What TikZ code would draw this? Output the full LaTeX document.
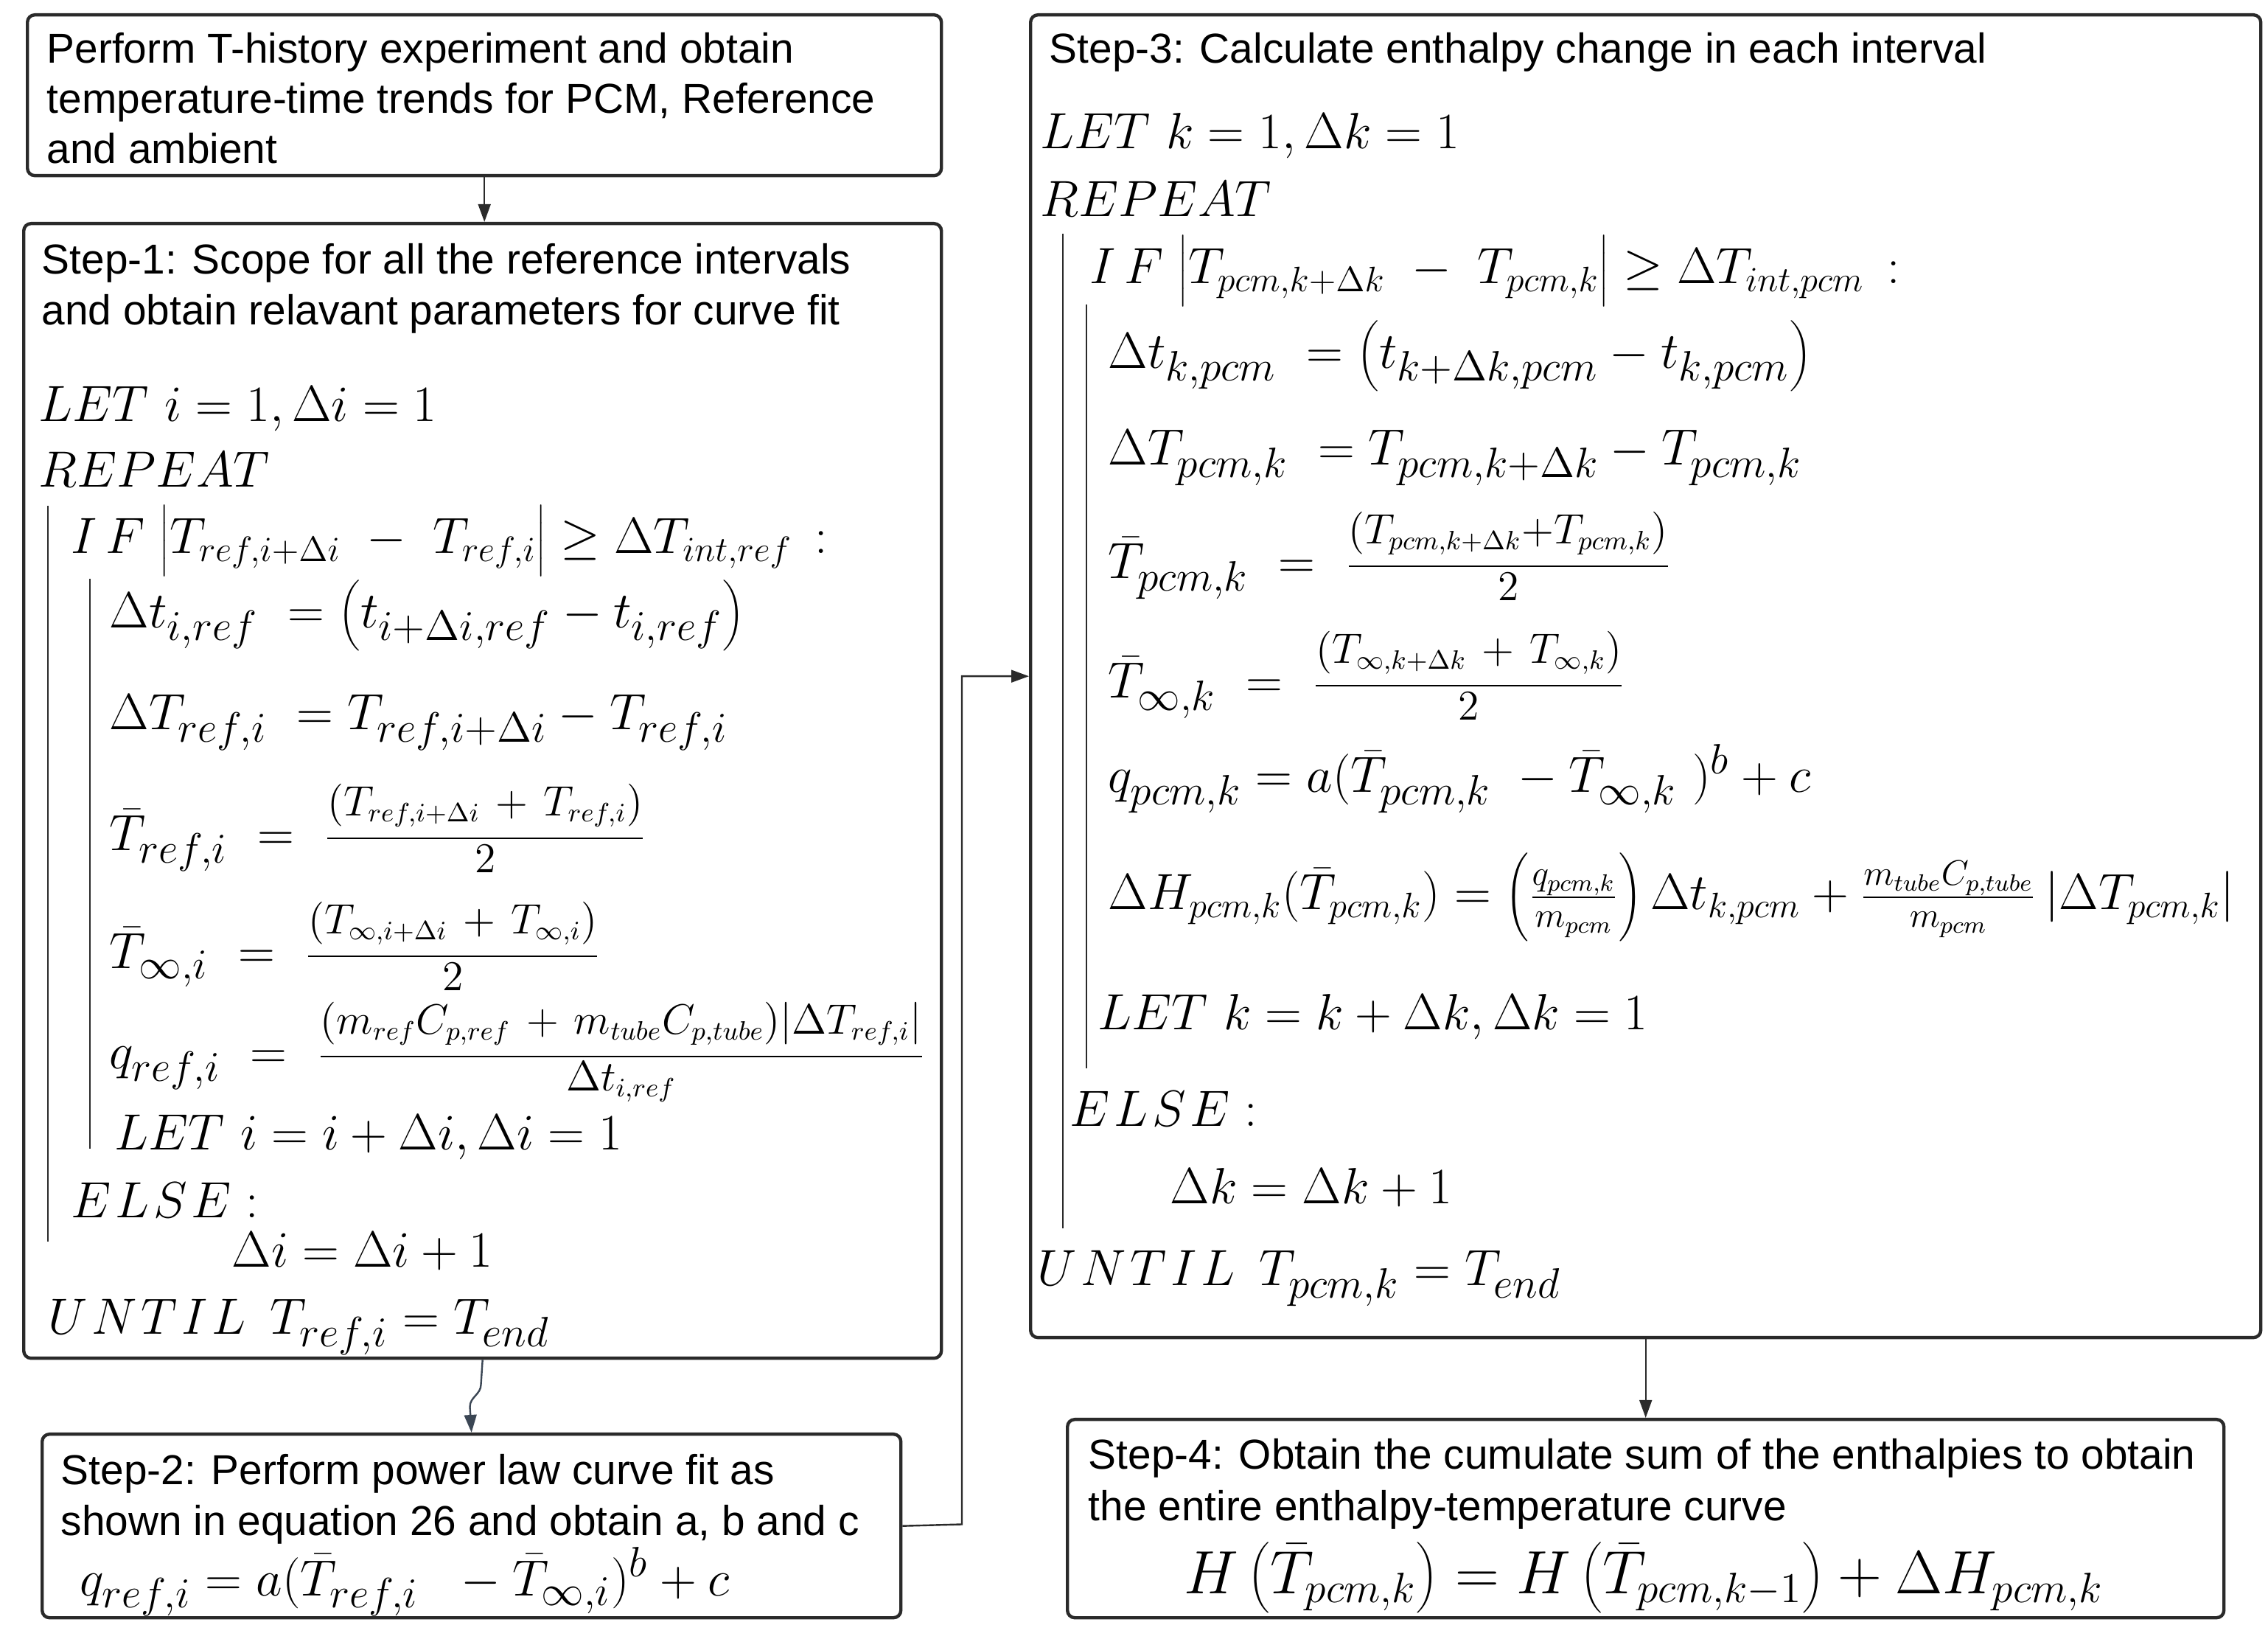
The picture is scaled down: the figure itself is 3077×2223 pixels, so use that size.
\documentclass[tikz,border=0pt]{standalone}
\usepackage[no-math]{fontspec}
\setmainfont{Liberation Sans}
\usetikzlibrary{arrows.meta,calc}
\definecolor{edge}{HTML}{2A2A2A}
\definecolor{slate}{HTML}{3B4654}
\newcommand\titlefnt{\fontsize{14.2}{17}\selectfont}
\newcommand\eqfnt{\fontsize{19}{23}\selectfont}
\newcommand\eqsmall{\fontsize{18}{22}\selectfont}
\newcommand\eqtiny{\fontsize{17}{21}\selectfont}
\newcommand\eqbig{\fontsize{19.5}{23}\selectfont}
% fraction with lifted numerator and lowered denominator
\newcommand\ffrac[2]{\frac{#1\vrule depth 7pt width 0pt height 0pt}{\vrule height 11pt width 0pt #2}}
\newcommand\ls{\mkern1.5mu}
\tikzset{
  box/.style={draw=edge, line width=1.1pt, rounded corners=2.5pt, fill=white, inner sep=0pt},
  txt/.style={anchor=base west, inner sep=0pt, font=\titlefnt},
  eq/.style={anchor=base west, inner sep=0pt, font=\eqfnt},
  arr/.style={draw=edge, line width=0.6pt, -{Triangle[length=6pt,width=4.2pt]}},
  bar/.style={draw=edge, line width=0.6pt}
}
\begin{document}
\begin{tikzpicture}[x=0.25pt,y=-0.25pt]
\useasboundingbox (0,0) rectangle (3077,2223);
% boxes
\node[box, anchor=north west, minimum width=310pt, minimum height=54.5pt] (b0) at (35,18) {};
\node[box, anchor=north west, minimum width=311.25pt, minimum height=384.75pt] (b1) at (30,301) {};
\node[box, anchor=north west, minimum width=291.25pt, minimum height=62.25pt] (b2) at (55,1943) {};
\node[box, anchor=north west, minimum width=417.25pt, minimum height=448.5pt] (b3) at (1396,18) {};
\node[box, anchor=north west, minimum width=392.25pt, minimum height=67.25pt] (b4) at (1446,1923) {};

% box 0
\node[txt] (t0a) at (63,86) {Perform T-history experiment and obtain};
\node[txt] (t0b) at (63,154) {temperature-time trends for PCM, Reference};
\node[txt] (t0c) at (63,222) {and ambient};

% box 1
\node[txt] (t1a) at (56,372) {Step-1: Scope for all the reference intervals};
\node[txt] (t1b) at (56,441) {and obtain relavant parameters for curve fit};
\node[eq] (e1a) at (52,572) {$LET\ i=1,\Delta i=1$};
\node[eq] (e1b) at (52,661) {$REPEAT$};
\node[eq, font=\eqsmall] (e1c) at (96,751) {$I\,F\ \Biggl|T_{ref,i+\Delta i}\ -\ T_{ref,i}\Biggr|\geq\Delta T_{int,ref}\,:$};
\node[eq] (e1d) at (148,852) {$\Delta t_{i,ref}\ =\left(t_{i+\Delta i,ref}-t_{i,ref}\right)$};
\node[eq] (e1e) at (148,990) {$\Delta T_{ref,i}\ =T_{ref,i+\Delta i}-T_{ref,i}$};
\node[eq] (e1f) at (148,1154) {$\bar{T}_{ref,i}\ =\ \ffrac{\left(T_{ref,i+\Delta i}\ +\ T_{ref,i}\right)}{2}$};
\node[eq] (e1g) at (148,1314) {$\bar{T}_{\infty,i}\ =\ \ffrac{\left(T_{\infty,i+\Delta i}\ +\ T_{\infty,i}\right)}{2}$};
\node[eq] (e1h) at (148,1450) {$q_{ref,i}\ =\ \ffrac{\left(m_{ref}C_{p,ref}\ +\ m_{tube}C_{p,tube}\right)\left|\Delta T_{ref,i}\right|}{\Delta t_{i,ref}}$};
\node[eq] (e1i) at (155,1560) {$LET\ i=i+\Delta i,\Delta i=1$};
\node[eq] (e1j) at (96,1652) {$E\ls L\ls S\ls E:$};
\node[eq] (e1k) at (314,1719) {$\Delta i=\Delta i+1$};
\node[eq] (e1l) at (65,1810) {$U\ls N\ls T\ls I\ls L\ \,T_{ref,i}=T_{end}$};
\coordinate (o1t) at (65,686);  \coordinate (o1b) at (65,1684);
\coordinate (i1t) at (122,785); \coordinate (i1b) at (122,1558);
\draw[bar] (o1t) -- (o1b);
\draw[bar] (i1t) -- (i1b);

% box 2
\node[txt] (t2a) at (82,2014) {Step-2: Perform power law curve fit as};
\node[txt] (t2b) at (82,2083) {shown in equation 26 and obtain a, b and c};
\node[eq] (e2a) at (108,2164) {$q_{ref,i}=a(\bar{T}_{ref,i}\ \ -\bar{T}_{\infty,i})^{b}+c$};

% box 3
\node[txt] (t3a) at (1423,86) {Step-3: Calculate enthalpy change in each interval};
\node[eq] (e3a) at (1411,202) {$LET\ k=1,\Delta k=1$};
\node[eq] (e3b) at (1411,294) {$REPEAT$};
\node[eq, font=\eqsmall] (e3c) at (1478,385) {$I\,F\ \Biggl|T_{pcm,k+\Delta k}\ -\ T_{pcm,k}\Biggr|\geq\Delta T_{int,pcm}\,:$};
\node[eq] (e3d) at (1503,500) {$\Delta t_{k,pcm}\ =\left(t_{k+\Delta k,pcm}-t_{k,pcm}\right)$};
\node[eq] (e3e) at (1503,631) {$\Delta T_{pcm,k}\ =T_{pcm,k+\Delta k}-T_{pcm,k}$};
\node[eq] (e3f) at (1503,785) {$\bar{T}_{pcm,k}\ =\ \ffrac{\left(T_{pcm,k+\Delta k}+T_{pcm,k}\right)}{2}$};
\node[eq] (e3g) at (1503,947) {$\bar{T}_{\infty,k}\ =\ \ffrac{\left(T_{\infty,k+\Delta k}\ +\ T_{\infty,k}\right)}{2}$};
\node[eq] (e3h) at (1503,1075) {$q_{pcm,k}=a(\bar{T}_{pcm,k}\ -\bar{T}_{\infty,k}\ )^{b}+c$};
\node[eq, font=\eqtiny] (e3i) at (1503,1234) {$\Delta H_{pcm,k}(\bar{T}_{pcm,k})=\left(\frac{q_{pcm,k}}{m_{pcm}}\right)\Delta t_{k,pcm}+\frac{m_{tube}C_{p,tube}}{m_{pcm}}\left|\Delta T_{pcm,k}\right|$};
\node[eq] (e3j) at (1489,1397) {$LET\ k=k+\Delta k,\Delta k=1$};
\node[eq] (e3k) at (1451,1528) {$E\ls L\ls S\ls E:$};
\node[eq] (e3l) at (1587,1633) {$\Delta k=\Delta k+1$};
\node[eq] (e3m) at (1407,1744) {$U\ls N\ls T\ls I\ls L\ \,T_{pcm,k}=T_{end}$};
\coordinate (o3t) at (1442,317);  \coordinate (o3b) at (1442,1666);
\coordinate (i3t) at (1474,413);  \coordinate (i3b) at (1474,1449);
\draw[bar] (o3t) -- (o3b);
\draw[bar] (i3t) -- (i3b);

% box 4
\node[txt] (t4a) at (1476,1993) {Step-4: Obtain the cumulate sum of the enthalpies to obtain};
\node[txt] (t4b) at (1476,2062) {the entire enthalpy-temperature curve};
\node[eq, anchor=base, font=\eqbig] (e4a) at (2230,2161) {$H\left(\bar{T}_{pcm,k}\right)=H\left(\bar{T}_{pcm,k-1}\right)+\Delta H_{pcm,k}$};

% connectors
\draw[arr] (b0.south) -- (b0.south |- b1.north);
\coordinate (k1) at (652.5,1878);
\coordinate (k2) at (637.5,1908);
\draw[arr, draw=slate] (b1.south) -- (k1) to[out=-90,in=90] (k2) -- (b2.north);
\coordinate (c1) at (1305,2067.5);
\draw[arr] (b2.east) -- (c1) |- (b3.west);
\draw[arr] (b3.south) -- (b4.north);
\end{tikzpicture}
\end{document}
